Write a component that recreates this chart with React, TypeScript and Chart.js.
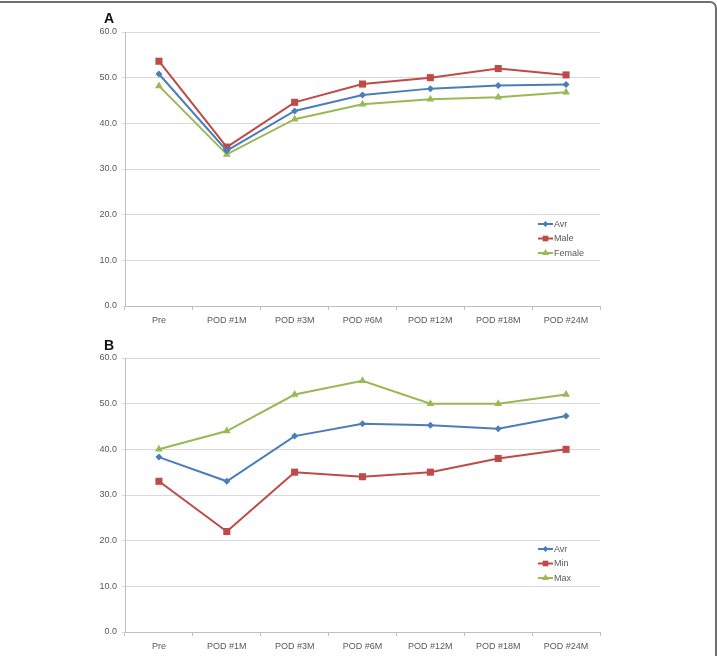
import React, { useEffect, useRef } from "react";
import { Chart, registerables } from "chart.js";

Chart.register(...registerables);

// Time points on the x axis
const categories = ["Pre", "POD #1M", "POD #3M", "POD #6M", "POD #12M", "POD #18M", "POD #24M"];
const yTicks = [0, 10, 20, 30, 40, 50, 60];

// Panel A: by sex
const avrA = [50.8, 34.0, 42.7, 46.2, 47.6, 48.3, 48.5];
const maleA = [53.6, 34.8, 44.6, 48.6, 50.0, 52.0, 50.6];
const femaleA = [48.2, 33.2, 40.9, 44.2, 45.3, 45.7, 46.8];

// Panel B: average with range
const avrB = [38.3, 33.0, 42.9, 45.6, 45.3, 44.5, 47.3];
const minB = [33.0, 22.0, 35.0, 34.0, 35.0, 38.0, 40.0];
const maxB = [40.0, 44.0, 52.0, 55.0, 50.0, 50.0, 52.0];

const BLUE = "#4a7ebb";
const RED = "#be4b48";
const GREEN = "#98b954";
const TEXT = "#595959";
const FONT = "'Liberation Sans', Arial, sans-serif";

type Series = { label: string; data: number[]; color: string; style: "rectRot" | "rect" | "triangle"; radius: number };

function marker(ctx: CanvasRenderingContext2D, style: string, x: number, y: number, r: number, color: string) {
  ctx.save();
  ctx.fillStyle = color;
  ctx.beginPath();
  if (style === "rectRot") {
    ctx.moveTo(x, y - r);
    ctx.lineTo(x + r, y);
    ctx.lineTo(x, y + r);
    ctx.lineTo(x - r, y);
  } else if (style === "rect") {
    const s = r * Math.SQRT1_2;
    ctx.rect(x - s, y - s, 2 * s, 2 * s);
  } else {
    const e = (3 * r) / Math.sqrt(3);
    const h = (e * Math.sqrt(3)) / 2;
    ctx.moveTo(x - e / 2, y + h / 3);
    ctx.lineTo(x + e / 2, y + h / 3);
    ctx.lineTo(x, y - (2 * h) / 3);
  }
  ctx.closePath();
  ctx.fill();
  ctx.restore();
}

// Legend drawn inside the plot, lower right, with line + marker samples
const insideLegend = {
  id: "insideLegend",
  afterDraw(chart: any, _args: any, opts: any) {
    const ctx: CanvasRenderingContext2D = chart.ctx;
    const series: Series[] = opts.series || [];
    ctx.save();
    ctx.font = `9px ${FONT}`;
    ctx.textBaseline = "middle";
    series.forEach((s, i) => {
      const y = opts.y + i * opts.rowGap;
      ctx.strokeStyle = s.color;
      ctx.lineWidth = 2;
      ctx.beginPath();
      ctx.moveTo(opts.x, y);
      ctx.lineTo(opts.x + 15, y);
      ctx.stroke();
      marker(ctx, s.style, opts.x + 7.5, y, s.style === "rectRot" ? 3 : 4, s.color);
      ctx.fillStyle = TEXT;
      ctx.fillText(s.label, opts.x + 16, y + 0.5);
    });
    ctx.restore();
  },
};

function LineChart({ series, height, legendY }: { series: Series[]; height: number; legendY: number }) {
  const ref = useRef<HTMLCanvasElement | null>(null);
  useEffect(() => {
    if (!ref.current) return;
    const chart = new Chart(ref.current, {
      type: "line",
      data: {
        labels: categories,
        datasets: series.map((s) => ({
          label: s.label,
          data: s.data,
          borderColor: s.color,
          backgroundColor: s.color,
          borderWidth: 2,
          pointStyle: s.style,
          pointRadius: s.radius,
          pointBorderWidth: 0,
          pointBackgroundColor: s.color,
          tension: 0,
          fill: false,
        })),
      },
      options: {
        animation: false,
        responsive: false,
        maintainAspectRatio: false,
        layout: { padding: { top: 32, left: 0, right: 117, bottom: 0 } },
        plugins: {
          legend: { display: false },
          tooltip: { enabled: false },
          insideLegend: { series, x: 538, y: legendY, rowGap: 14.5 },
        } as any,
        scales: {
          x: {
            type: "category",
            offset: true,
            grid: {
              display: true,
              offset: true,
              drawOnChartArea: false,
              drawTicks: true,
              tickLength: 4,
              color: "#bfbfbf",
            },
            border: { display: true, color: "#bfbfbf", width: 1 },
            ticks: { color: TEXT, font: { family: FONT, size: 9 }, padding: 5, maxRotation: 0, autoSkip: false },
            afterFit: (scale: any) => {
              scale.height = height - 306;
            },
          },
          y: {
            min: yTicks[0],
            max: yTicks[yTicks.length - 1],
            afterBuildTicks: (scale: any) => {
              scale.ticks = yTicks.map((v) => ({ value: v }));
            },
            grid: { color: "#d9d9d9", lineWidth: 1, tickLength: 3, drawTicks: true },
            border: { display: true, color: "#bfbfbf", width: 1 },
            ticks: {
              color: TEXT,
              font: { family: FONT, size: 9 },
              padding: 5,
              callback: (v: any) => Number(v).toFixed(1),
            },
            afterFit: (scale: any) => {
              scale.width = 125;
            },
          },
        },
      },
      plugins: [insideLegend],
    });
    return () => chart.destroy();
  }, []);
  return <canvas ref={ref} width={717} height={height} style={{ display: "block", width: 717, height }} />;
}

const seriesA: Series[] = [
  { label: "Avr", data: avrA, color: BLUE, style: "rectRot", radius: 3.5 },
  { label: "Male", data: maleA, color: RED, style: "rect", radius: 5 },
  { label: "Female", data: femaleA, color: GREEN, style: "triangle", radius: 4.5 },
];

const seriesB: Series[] = [
  { label: "Avr", data: avrB, color: BLUE, style: "rectRot", radius: 3.5 },
  { label: "Min", data: minB, color: RED, style: "rect", radius: 5 },
  { label: "Max", data: maxB, color: GREEN, style: "triangle", radius: 4.5 },
];

const panelLabel: React.CSSProperties = {
  position: "absolute",
  left: 104,
  fontFamily: "'Liberation Sans', Arial, sans-serif",
  fontWeight: "bold",
  fontSize: 14,
  color: "#111",
  lineHeight: "14px",
};

export default function App() {
  return (
    <div
      style={{
        position: "fixed",
        left: 0,
        top: 0,
        width: 717,
        height: 656,
        overflow: "hidden",
        background: "#fff",
      }}
    >
      <div
        style={{
          position: "absolute",
          left: -10,
          top: 1,
          width: 727,
          height: 700,
          border: "2px solid #707070",
          borderTopRightRadius: 7,
          boxSizing: "border-box",
        }}
      />
      <div style={{ position: "absolute", left: 0, top: 0 }}>
        <LineChart series={seriesA} height={326} legendY={224} />
      </div>
      <div style={{ position: "absolute", left: 0, top: 326 }}>
        <LineChart series={seriesB} height={330} legendY={223} />
      </div>
      <div style={{ ...panelLabel, top: 11 }}>A</div>
      <div style={{ ...panelLabel, top: 338 }}>B</div>
    </div>
  );
}
